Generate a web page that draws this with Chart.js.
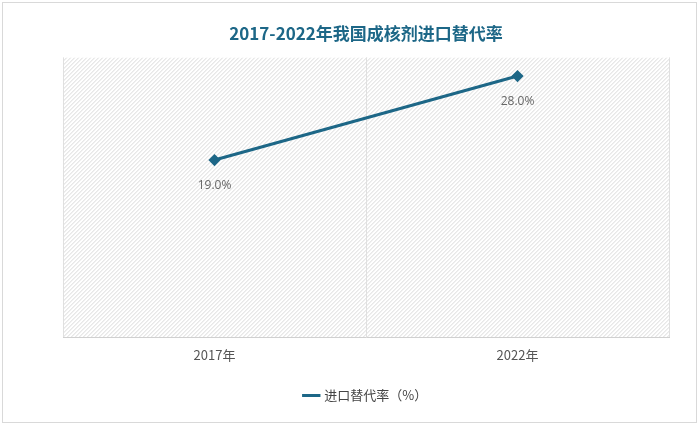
<!DOCTYPE html>
<html><head><meta charset="utf-8">
<script src="https://cdn.jsdelivr.net/npm/chart.js@4"></script>
<style>
body{margin:0;background:#fff;}
#wrap{position:absolute;left:2px;top:2px;width:693px;height:419px;border:1px solid #d9d9d9;}
</style></head>
<body><div id="wrap"><canvas id="c"></canvas></div>
<script>
const categories = ['2017年', '2022年'];
const seriesName = '进口替代率（%）';
const values = [19.0, 28.0];
const color = '#1d6787';

// hatched background of the plot area
const hatch = {
  id: 'hatch',
  beforeDraw(chart) {
    const {ctx, chartArea: a} = chart;
    ctx.save();
    ctx.beginPath(); ctx.rect(a.left, a.top, a.right - a.left, a.bottom - a.top); ctx.clip();
    ctx.strokeStyle = '#d9d9d9'; ctx.lineWidth = 1;
    for (let x = a.left - (a.bottom - a.top); x < a.right; x += 4) {
      ctx.beginPath(); ctx.moveTo(x, a.bottom); ctx.lineTo(x + (a.bottom - a.top), a.top); ctx.stroke();
    }
    ctx.restore();
  }
};
const labels = {
  id: 'labels',
  afterDatasetsDraw(chart) {
    const {ctx} = chart;
    ctx.save(); ctx.font = '12px "Open Sans"'; ctx.fillStyle = '#666'; ctx.textAlign = 'center';
    chart.getDatasetMeta(0).data.forEach((p, i) => ctx.fillText(values[i].toFixed(1) + '%', p.x, p.y + 26));
    ctx.restore();
  }
};

new Chart(document.getElementById('c'), {
  type: 'line',
  data: { labels: categories, datasets: [{
    label: seriesName, data: values, borderColor: color, backgroundColor: color,
    borderWidth: 3, pointStyle: 'rectRot', pointRadius: 4, pointHoverRadius: 4
  }]},
  options: {
    responsive: true, maintainAspectRatio: false, animation: false,
    layout: { padding: { left: 60, right: 27, top: 0, bottom: 10 } },
    plugins: {
      title: { display: true, text: '2017-2022年我国成核剂进口替代率', color: color,
        font: { size: 17, weight: 'bold', family: '"Noto Sans CJK SC"' }, padding: { top: 20, bottom: 14 } },
      legend: { position: 'bottom', labels: { usePointStyle: true, pointStyle: 'line', color: '#444',
        font: { size: 13, family: '"Noto Sans CJK SC"' }, padding: 16 } },
      tooltip: { enabled: false }
    },
    scales: {
      x: { offset: true, grid: { offset: true, color: '#e0e0e0', drawTicks: false },
        border: { color: '#d0d0d0' },
        ticks: { color: '#555', font: { size: 13, family: '"Noto Sans CJK SC"' }, padding: 10 } },
      y: { display: false, min: 0, max: 30 }
    }
  },
  plugins: [hatch, labels]
});
</script></body></html>
